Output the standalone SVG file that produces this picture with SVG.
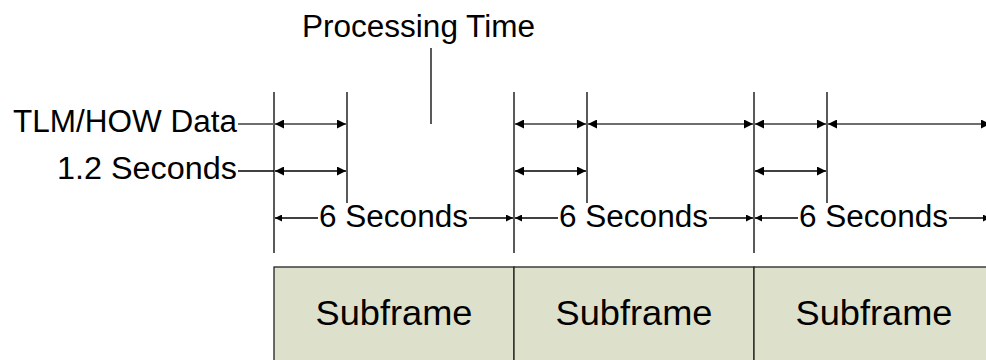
<svg xmlns="http://www.w3.org/2000/svg" width="986" height="360" viewBox="0 0 986 360">
  <style>
    .lbl { font-family: "Liberation Sans", Arial, sans-serif; fill: #000; }
    .big { font-size: 31px; }
    .sf { font-size: 35px; text-anchor: middle; }
    .tick { stroke: #000; stroke-width: 1.3; fill: none; }
    .dim { stroke: #000; stroke-width: 1.3; fill: none; }
    .dimg { stroke: #6e6e6e; stroke-width: 2; fill: none; }
    .box { fill: #dde1cc; stroke: #222; stroke-width: 1.3; }
  </style>
  <defs>
    <marker id="ah" viewBox="0 0 10 10" refX="10" refY="5" markerWidth="10" markerHeight="9" markerUnits="userSpaceOnUse" orient="auto-start-reverse">
      <path d="M0,0 L10,5 L0,10 Z" fill="#000"/>
    </marker>
    <marker id="ahs" viewBox="0 0 10 10" refX="10" refY="5" markerWidth="8" markerHeight="7" markerUnits="userSpaceOnUse" orient="auto-start-reverse">
      <path d="M0,0 L10,5 L0,10 Z" fill="#000"/>
    </marker>
  </defs>

  <!-- title and pointer -->
  <g id="processing-time">
    <text class="lbl big" x="418.5" y="37" text-anchor="middle" textLength="233" lengthAdjust="spacingAndGlyphs">Processing Time</text>
    <line class="tick" x1="431" y1="48" x2="431" y2="124"/>
  </g>

  <!-- row labels -->
  <g id="tlm-label">
    <text class="lbl big" x="13" y="132" textLength="224" lengthAdjust="spacingAndGlyphs">TLM/HOW Data</text>
  </g>
  <g id="sec12-label">
    <text class="lbl big" x="57" y="179" textLength="180" lengthAdjust="spacingAndGlyphs">1.2 Seconds</text>
  </g>

  <!-- subframe blocks -->
  <g id="subframe-1">
    <rect class="box" x="274" y="267" width="240" height="100"/>
    <text class="lbl sf" x="394" y="325" textLength="157" lengthAdjust="spacingAndGlyphs">Subframe</text>
  </g>
  <g id="subframe-2">
    <rect class="box" x="514" y="267" width="240" height="100"/>
    <text class="lbl sf" x="634" y="325" textLength="157" lengthAdjust="spacingAndGlyphs">Subframe</text>
  </g>
  <g id="subframe-3">
    <rect class="box" x="754" y="267" width="240" height="100"/>
    <text class="lbl sf" x="874" y="325" textLength="157" lengthAdjust="spacingAndGlyphs">Subframe</text>
  </g>

  <!-- 6 second span labels -->
  <g id="span-1"><text class="lbl big" x="319" y="227" textLength="149" lengthAdjust="spacingAndGlyphs">6 Seconds</text></g>
  <g id="span-2"><text class="lbl big" x="559" y="227" textLength="149" lengthAdjust="spacingAndGlyphs">6 Seconds</text></g>
  <g id="span-3"><text class="lbl big" x="799" y="227" textLength="149" lengthAdjust="spacingAndGlyphs">6 Seconds</text></g>

  <g id="connectors">
    <!-- extension lines -->
    <line class="tick" x1="274" y1="92" x2="274" y2="253"/>
    <line class="tick" x1="347" y1="92" x2="347" y2="203"/>
    <line class="tick" x1="514" y1="92" x2="514" y2="253"/>
    <line class="tick" x1="587" y1="92" x2="587" y2="203"/>
    <line class="tick" x1="754" y1="92" x2="754" y2="253"/>
    <line class="tick" x1="827" y1="92" x2="827" y2="203"/>

    <!-- leaders from labels -->
    <line class="dimg" x1="238" y1="124" x2="274" y2="124"/>
    <line class="dim" x1="238" y1="171" x2="274" y2="171"/>

    <!-- TLM/HOW row -->
    <line class="dimg" x1="275" y1="124" x2="346" y2="124" marker-start="url(#ah)" marker-end="url(#ah)"/>
    <line class="dimg" x1="515" y1="124" x2="586" y2="124" marker-start="url(#ah)" marker-end="url(#ah)"/>
    <line class="dimg" x1="588" y1="124" x2="753" y2="124" marker-start="url(#ah)" marker-end="url(#ah)"/>
    <line class="dimg" x1="755" y1="124" x2="826" y2="124" marker-start="url(#ah)" marker-end="url(#ah)"/>
    <line class="dimg" x1="828" y1="124" x2="990" y2="124" marker-start="url(#ah)" marker-end="url(#ah)"/>

    <!-- 1.2 second row -->
    <line class="dim" x1="275" y1="171" x2="346" y2="171" marker-start="url(#ah)" marker-end="url(#ah)"/>
    <line class="dim" x1="515" y1="171" x2="586" y2="171" marker-start="url(#ah)" marker-end="url(#ah)"/>
    <line class="dim" x1="755" y1="171" x2="826" y2="171" marker-start="url(#ah)" marker-end="url(#ah)"/>

    <!-- 6 second rows, broken around the labels -->
    <line class="dim" x1="275" y1="218" x2="318" y2="218" marker-start="url(#ahs)"/>
    <line class="dim" x1="469" y1="218" x2="513" y2="218" marker-end="url(#ahs)"/>
    <line class="dim" x1="515" y1="218" x2="558" y2="218" marker-start="url(#ahs)"/>
    <line class="dim" x1="709" y1="218" x2="753" y2="218" marker-end="url(#ahs)"/>
    <line class="dim" x1="755" y1="218" x2="798" y2="218" marker-start="url(#ahs)"/>
    <line class="dim" x1="949" y1="218" x2="990" y2="218" marker-end="url(#ahs)"/>
  </g>
</svg>
